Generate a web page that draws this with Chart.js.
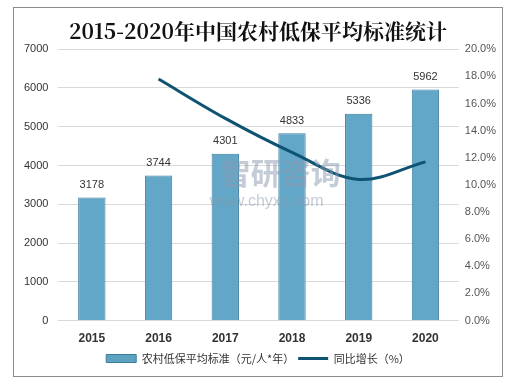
<!DOCTYPE html>
<html><head><meta charset="utf-8">
<script src="https://cdn.jsdelivr.net/npm/chart.js@4/dist/chart.umd.min.js"></script>
<style>
html,body{margin:0;padding:0;background:#fff;width:527px;height:384px;overflow:hidden}
#box{position:absolute;left:13px;top:7px;width:488px;height:368px;border:1px solid #8c8c8c;background:#fff}
#c{display:block}
</style></head><body>
<div id="box"><canvas id="c" width="488" height="368"></canvas></div>
<script>
const categories = ['2015','2016','2017','2018','2019','2020'];
const standardValues = [3178, 3744, 4301, 4833, 5336, 5962];
const growthValues = [null, 17.8, 14.9, 12.4, 10.4, 11.7];
const leftTicks = [0,1000,2000,3000,4000,5000,6000,7000];
const rightTicks = [0,2,4,6,8,10,12,14,16,18,20];
const barLabel = '农村低保平均标准（元/人*年）';
const lineLabel = '同比增长（%）';
const titleText = '2015-2020年中国农村低保平均标准统计';

function barGradient(ctx){
  const chart = ctx.chart;
  const el = ctx.element;
  if(!chart.chartArea || !el || el.x===undefined) return '#62a7c7';
  const w = el.width || 28;
  const g = chart.ctx.createLinearGradient(el.x - w/2, 0, el.x + w/2, 0);
  g.addColorStop(0, '#4e93b4');
  g.addColorStop(0.5, '#6fb2d0');
  g.addColorStop(1, '#5b9fc0');
  return g;
}

const labelPlugin = {
  id:'barLabels',
  afterDatasetsDraw(chart){
    const ctx = chart.ctx;
    const meta = chart.getDatasetMeta(1);
    ctx.save();
    ctx.font = '11px "Liberation Sans", Arial, sans-serif';
    ctx.fillStyle = '#333';
    ctx.textAlign = 'center';
    ctx.textBaseline = 'bottom';
    meta.data.forEach((b,i)=>{ ctx.fillText(String(standardValues[i]), b.x, b.y - 7); });
    ctx.restore();
  }
};
const watermark = {
  id:'wm',
  afterDatasetsDraw(chart){
    const ctx = chart.ctx;
    const a = chart.chartArea;
    const cx = (a.left+a.right)/2, cy = a.top + (a.bottom-a.top)*0.5;
    ctx.save();
    ctx.globalAlpha = 0.5;
    ctx.fillStyle = '#8a9ab0';
    ctx.font = 'bold 30px "Noto Sans CJK SC", sans-serif';
    ctx.textAlign='center'; ctx.textBaseline='middle';
    ctx.fillText('智研咨询', cx+22, cy-12);
    ctx.font = '16px "Liberation Sans", Arial, sans-serif';
    ctx.fillText('www.chyxx.com', cx+8, cy+17);
    ctx.restore();
  }
};

new Chart(document.getElementById('c'), {
  data:{
    labels: categories,
    datasets:[
      {type:'line', label: lineLabel, data: growthValues, yAxisID:'y1',
       borderColor:'#0e5371', backgroundColor:'#0e5371', borderWidth:3,
       pointRadius:0, pointHoverRadius:0, tension:0.35, spanGaps:false, order:0, pointStyle:'line'},
      {type:'bar', label: barLabel, data: standardValues, yAxisID:'y',
       backgroundColor: barGradient, borderColor:'#3d7d9c', borderWidth:1,
       barPercentage:0.41, categoryPercentage:1.0, order:1, pointStyle:'rect'}
    ]
  },
  options:{
    responsive:false, animation:false,
    layout:{padding:{left:0,right:0,top:6,bottom:2}},
    plugins:{
      title:{display:true, text:titleText, color:'#111',
        font:{family:'"Noto Serif CJK SC","Noto Sans CJK SC", serif', size:21, weight:'bold'},
        padding:{top:4,bottom:6}},
      legend:{position:'bottom', reverse:true,
        labels:{usePointStyle:true, pointStyleWidth:30, boxHeight:8, color:'#333',
          font:{family:'"Noto Sans CJK SC", sans-serif', size:11}, padding:4,
          generateLabels(chart){
            const items = Chart.defaults.plugins.legend.labels.generateLabels(chart);
            items.forEach(it=>{
              if(it.datasetIndex===1){ it.fillStyle='#5ea2c2'; it.strokeStyle='#3d7d9c'; it.lineWidth=1; it.pointStyle='rect'; }
              else { it.pointStyle='line'; it.lineWidth=3; it.strokeStyle='#0e5371'; }
            });
            return items;
          }}},
      tooltip:{enabled:false}
    },
    scales:{
      x:{grid:{display:false}, border:{display:false},
         ticks:{color:'#333', font:{family:'"Liberation Sans", Arial, sans-serif', size:12, weight:'bold'}, padding:3}},
      y:{position:'left', min:0, max:7000, afterBuildTicks(ax){ax.ticks = leftTicks.map(v=>({value:v}));},
         grid:{color:'#d9d9d9', drawTicks:false}, border:{display:false},
         ticks:{color:'#333', font:{family:'"Liberation Sans", Arial, sans-serif', size:11}, padding:10,
           callback:v=>String(v)}},
      y1:{position:'right', min:0, max:20, afterBuildTicks(ax){ax.ticks = rightTicks.map(v=>({value:v}));},
         grid:{display:false, drawTicks:false}, border:{display:false},
         ticks:{color:'#555', font:{family:'"Liberation Sans", Arial, sans-serif', size:11}, padding:6,
           callback:v=>v.toFixed(1)+'%'}}
    }
  },
  plugins:[labelPlugin, watermark]
});
</script>
</body></html>
